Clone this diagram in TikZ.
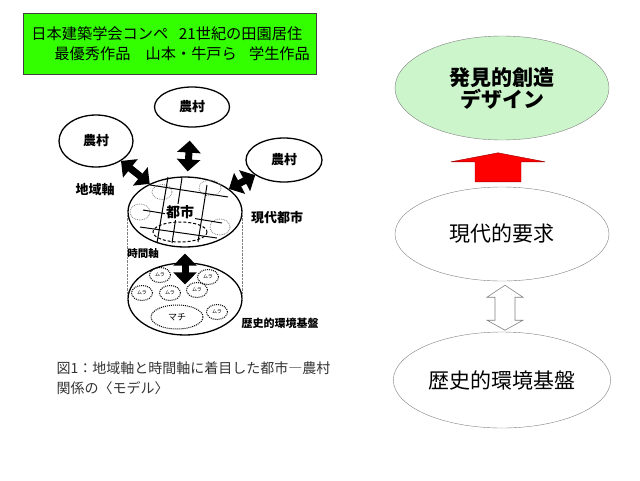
\documentclass[tikz,border=0pt]{standalone}
\usepackage{fontspec}
\setmainfont{Noto Sans CJK JP}
\usepackage{tikz}
\usetikzlibrary{arrows.meta}
\usetikzlibrary{shapes.geometric}
\usetikzlibrary{calc}
\definecolor{lime}{RGB}{51,255,0}
\definecolor{pale}{RGB}{204,245,204}
\tikzset{l/.style={font=\fontsize{13}{13}\selectfont\bfseries}}
\tikzset{s/.style={font=\fontsize{10.5}{10.5}\selectfont\bfseries}}
\tikzset{son/.style={ellipse,draw,line width=1.3pt,inner sep=0pt,l}}
\tikzset{mura/.style={ellipse,draw,densely dotted,line width=1pt,minimum width=21pt,minimum height=15pt,inner sep=0pt,font=\fontsize{5}{5}\selectfont}}
\tikzset{fat/.style={line width=7pt,{Triangle[width=23pt,length=12pt]}-{Triangle[width=23pt,length=12pt]}}}
\tikzset{big/.style={ellipse,draw=gray,minimum width=214pt,font=\fontsize{21}{22}\selectfont,align=center}}

\begin{document}
\begin{tikzpicture}[x=1pt,y=-1pt]
        \useasboundingbox (0,0) rectangle (640,480);
        % title box
        \node[draw=darkgray,fill=lime,minimum height=61pt,inner xsep=3.5pt,text width=286pt,align=left,
          font=\fontsize{15.2}{20}\selectfont] (title) at (169.5,43.5)
          {\hspace*{5pt}日本建築学会コンペ\hspace{0.7em}21世紀の田園居住\\\hspace*{28pt}最優秀作品\hspace{1em}山本・牛戸ら\hspace{0.8em}学生作品};
        % city and its grid
        \node[ellipse,draw,line width=1.3pt,minimum width=114pt,minimum height=70pt] (city) at (185,212) {};
        \begin{scope}[gray,densely dotted,line width=0.8pt]
          \draw (162,192) ellipse (10 and 7.5);
          \draw (210,188) ellipse (11 and 8);
          \draw (140,212) ellipse (10 and 8);
          \draw (220,227) ellipse (10 and 8);
        \end{scope}
        \draw[densely dashed,line width=1pt] (180,232) ellipse (27 and 10);
        \begin{scope}[line width=1pt]
          \draw (150,185) -- (228,197);
          \draw (143,210) -- (222,223);
          \draw (140,227) -- (217,238);
          \draw (168,177) -- (157,243);
          \draw (182,178) -- (172,243);
          \draw (207,185) -- (198,242);
        \end{scope}
        \node[fill=white,inner sep=1pt,font=\fontsize{14}{14}\selectfont\bfseries] (lcity) at (180,212) {都市};
        % villages
        \node[son,minimum width=74pt,minimum height=52pt] (n1) at (96,141) {農村}
          edge [fat] (city);
        \node[son,minimum width=75pt,minimum height=40pt] (n2) at (192,107) {農村}
          edge [fat,shorten <=13pt,shorten >=5pt] (city);
        \node[son,minimum width=76pt,minimum height=44pt] (n3) at (284,160) {農村}
          edge [fat] (city);
        % historical base
        \node[ellipse,draw,line width=1.3pt,minimum width=114pt,minimum height=72pt] (low) at (185,299) {};
        \draw[gray,densely dotted] (city.west) -- (low.west);
        \draw[gray,densely dotted] (city.east) -- (low.east);
        \draw[fat,shorten <=6pt,shorten >=-22pt] (city) -- (low);
        \node[mura] (m1) at (160,275) {ムラ};
        \node[mura] (m2) at (208,277) {ムラ};
        \node[mura] (m3) at (142,293) {ムラ};
        \node[mura] (m4) at (170,293) {ムラ};
        \node[mura] (m5) at (197,290) {ムラ};
        \node[mura] (m6) at (217,312) {ムラ};
        \node[mura,minimum width=52pt,minimum height=24pt,font=\fontsize{9}{9}\selectfont] (machi) at (177,317) {マチ};
        \node[l] (chiiki) at (95,190) {地域軸};
        \node[l] (gendai) at (277,218) {現代都市};
        \node[s] (jikan) at (143,253) {時間軸};
        \node[font=\fontsize{11}{11}\selectfont\bfseries] (rekishi) at (280,323) {歴史的環境基盤};
        \node[anchor=west,align=left,text=black!80,font=\fontsize{14}{20}\selectfont] (cap) at (53,378)
          {図1：地域軸と時間軸に着目した都市―農村\\関係の〈モデル〉};
        % right column
        \node[big,fill=pale,minimum height=104pt,font=\fontsize{21}{22}\selectfont\bfseries] (des) at (502,88) {発見的創造\\デザイン};
        \node[big,minimum height=94pt] (mid) at (502,234) {現代的要求};
        \node[big,minimum height=96pt] (hist) at (502,380) {歴史的環境基盤};
        \filldraw[red,draw=red!60!black,line width=0.4pt] ($(mid.north)+(-27,-5)$) -- ++(0,-20) -- ++(-24,0)
          -- ++(47,-9) -- ++(47,9) -- ++(-24,0) -- ++(0,20) -- cycle;
        \filldraw[fill=white,draw=gray,line width=0.6pt] ($(mid.south)+(3,4)$) -- ++(18,12) -- ++(-8,0) -- ++(0,23)
          -- ++(8,0) -- ++(-18,10) -- ++(-18,-10) -- ++(8,0) -- ++(0,-23) -- ++(-8,0) -- cycle;
      \end{tikzpicture}
\end{document}
